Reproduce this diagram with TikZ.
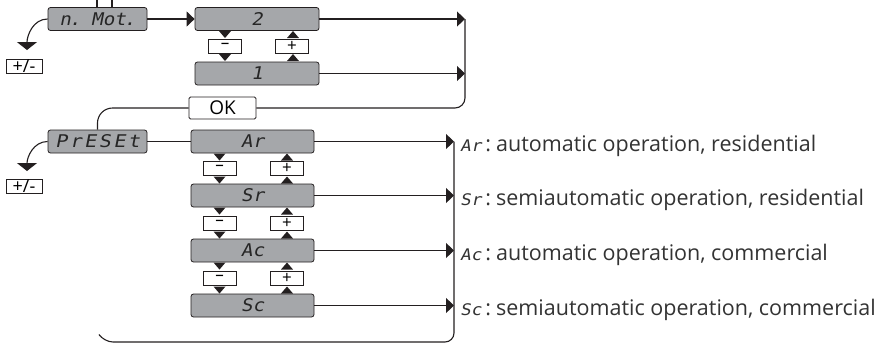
\documentclass[tikz,border=0pt]{standalone}
\usepackage{fontspec}
\setmainfont{Open Sans}
\newfontfamily\segfont{DejaVu Sans Mono}[FakeSlant=0.2,FakeStretch=1.1]
\newfontfamily\segfontwide{DejaVu Sans Mono}[FakeSlant=0.2,FakeStretch=1.15,LetterSpace=14]
\usetikzlibrary{arrows.meta,calc}
\definecolor{dispgray}{HTML}{A5A7AA}
\definecolor{linec}{HTML}{231F20}
\definecolor{segtext}{HTML}{262626}
\definecolor{txtc}{HTML}{333333}
\newcommand\dntri[1]{\fill[linec] ($(#1)+(-6,-3.5)$) -- ++(12,0) -- ++(-6,7) -- cycle;}
\newcommand\uptri[1]{\fill[linec] ($(#1)+(-6,3.5)$) -- ++(12,0) -- ++(-6,-7) -- cycle;}
\newcommand\segl[1]{{\segfont\fontsize{16bp}{16bp}\selectfont #1}\hspace{4bp}:\hspace{5bp}}
\begin{document}
\begin{tikzpicture}[x=1bp,y=-1bp,
  disp/.style={draw=linec, fill=dispgray, rounded corners=2.5bp, line width=0.8bp,
    minimum height=23bp, inner sep=0pt, text=segtext, font=\segfont\fontsize{17.5bp}{17.5bp}\selectfont},
  keybox/.style={draw=linec, fill=white, line width=0.8bp, minimum width=33bp, minimum height=14bp,
    inner sep=0pt, font=\fontsize{17bp}{17bp}\selectfont},
  pmbox/.style={draw=linec, fill=white, line width=0.7bp, minimum width=36bp, minimum height=13bp,
    inner sep=0pt, font=\fontsize{18bp}{18bp}\selectfont},
  conn/.style={draw=linec, line width=1.1bp},
  arr/.style={conn, -{Triangle[width=15bp,length=8bp]}},
  arrdn/.style={conn, -{Triangle[width=20bp,length=8bp]}},
  lbl/.style={anchor=base west, inner sep=0pt, text=txtc, font=\fontsize{21.5bp}{21.5bp}\selectfont}
]
\useasboundingbox (0,0) rectangle (884,345);

% ---- n. Mot. section ----
\node[disp, minimum width=99bp] (nmot) at (97.5,19) {n\kern-2bp.\kern-1bp\ Mot\kern-2bp.};
\node[disp, minimum width=124bp] (b2) at (257,19) {2};
\node[disp, minimum width=124bp] (b1) at (257,73.5) {1};
\node[keybox] (m0) at (225,46) {\raisebox{1bp}{–}};
\node[keybox] (p0) at (292,46) {+};
\node[pmbox] (pm1) at (24,66.5) {\raisebox{0.5bp}{+/-}};
\node[keybox, minimum width=67bp, minimum height=22bp, rounded corners=1.5bp,
  font=\fontsize{19bp}{19bp}\selectfont] (ok) at (222.5,108) {OK};

\coordinate (t1) at (97,0);
\coordinate (t2) at (112,0);
\draw[conn] (t1) -- (t1 |- nmot.north);
\draw[conn] (t2) -- (t2 |- nmot.north);

\coordinate (r2) at (465,19);
\coordinate (r1) at (465,73.5);
\draw[arr] (nmot.east) -- (b2.west);
\draw[arr] (b2.east) -- (r2);
\draw[arr] (b1.east) -- (r1);
\draw[conn, rounded corners=10bp] (r2) |- (ok.east);

\coordinate (d1) at (27,50);
\draw[arrdn] (nmot.west) to[out=180,in=90] (d1);

\dntri{225,34.5}
\dntri{225,57.5}
\uptri{293,34.5}
\uptri{293,57.5}

% ---- PrESEt section ----
\node[disp, minimum width=99bp, font=\segfontwide\fontsize{17.5bp}{17.5bp}\selectfont] (preset) at (97.5,141.5) {PrESEt};
\draw[conn, rounded corners=15bp] (ok.west) -| (preset.north);
\coordinate (d2) at (27,171);
\draw[arrdn] (preset.west) to[out=180,in=90] (d2);
\node[pmbox] (pm2) at (24,186.5) {\raisebox{0.5bp}{+/-}};

\node[disp, minimum width=123bp] (ar) at (252.5,141.5) {Ar};
\node[disp, minimum width=123bp] (sr) at (252.5,195.5) {Sr};
\node[disp, minimum width=123bp] (ac) at (252.5,250.5) {Ac};
\node[disp, minimum width=123bp] (sc) at (252.5,305.5) {Sc};
\draw[conn] (preset.east) -- (ar.west);

\foreach \ky/\ty/\tyb/\n in {168.5/157/180/1, 223/211/235/2, 278/266/290/3}{
  \node[keybox] (m\n) at (219.5,\ky) {\raisebox{1bp}{–}};
  \node[keybox] (p\n) at (287,\ky) {+};
  \dntri{219.5,\ty}
  \dntri{219.5,\tyb}
  \uptri{287,\ty}
  \uptri{287,\tyb}
}

\coordinate (qar) at (454,141.5);
\coordinate (qsr) at (454,195.5);
\coordinate (qac) at (454,250.5);
\coordinate (qsc) at (454,305.5);
\coordinate (bl) at (100,336);
\draw[arr] (ar.east) -- (qar);
\draw[arr] (sr.east) -- (qsr);
\draw[arr] (ac.east) -- (qac);
\draw[arr] (sc.east) -- (qsc);
\draw[conn, rounded corners=9bp] (qar) -- (454,342) -- (104,342) -- (bl);

\node[lbl] (lar) at (460,151) {\segl{Ar}automatic operation, residential};
\node[lbl] (lsr) at (460,205) {\segl{Sr}semiautomatic operation, residential};
\node[lbl] (lac) at (460,260) {\segl{Ac}automatic operation, commercial};
\node[lbl] (lsc) at (460,315) {\segl{Sc}semiautomatic operation, commercial};
\end{tikzpicture}
\end{document}
